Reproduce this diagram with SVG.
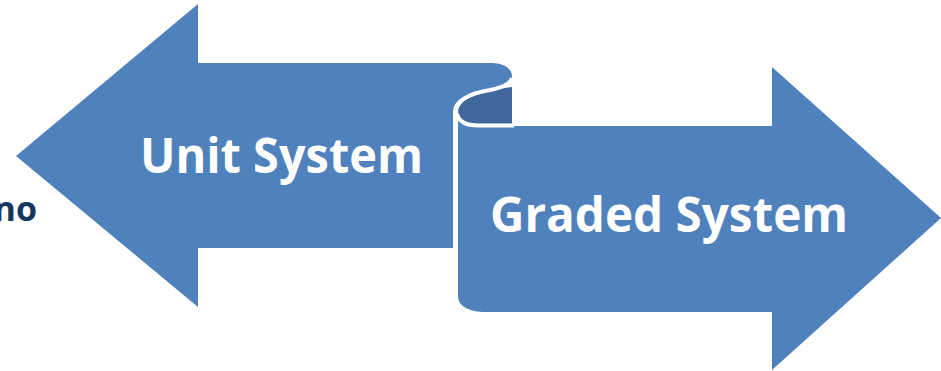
<svg xmlns="http://www.w3.org/2000/svg" width="941" height="371" viewBox="0 0 941 371">
<style>
.body{fill:#4F81BD}
.back{fill:#41689C}
.gap{fill:none;stroke:#FFFFFF;stroke-width:4}
.lbl{font-family:"Open Sans","Liberation Sans",sans-serif;font-weight:bold;fill:#FFFFFF;font-size:48px}
.side{font-family:"Open Sans","Liberation Sans",sans-serif;font-weight:bold;fill:#17375E;font-size:34px}
</style>
<rect width="941" height="371" fill="#FFFFFF"/>
<text class="side" x="37" y="221" text-anchor="end">no</text>
<g id="graded-system">
<path class="body" d="M458,116 C460,124 468,126 478,126 L772,126 L772,67 L941,218 L772,370 L772,312 L486,312 C469,312 458,306 458,296 Z"/>
<text class="lbl" x="490" y="232" textLength="358" lengthAdjust="spacingAndGlyphs">Graded System</text>
</g>
<g id="curl">
<path class="back" d="M458,110 C460,98 482,91 512,87 L512,124 L478,124 C466,124 458,120 458,110 Z"/>
</g>
<g id="unit-system">
<path class="body" d="M16,156 L198,4 L198,63 L492,63 C504,63 512,69 512,76 C512,84 502,87 490,89 C470,92 453,99 453,112 L453,248 L198,248 L198,307 Z"/>
<text class="lbl" x="140" y="173" textLength="283" lengthAdjust="spacingAndGlyphs">Unit System</text>
</g>
<g id="connectors">
<path class="gap" d="M512,78 C510,85 500,88 490,90 C472,93 456,99 456,112 L456,248"/>
<path class="gap" d="M457,114 C459,122 467,125.5 478,125.5 L514,125.5"/>
</g>
</svg>
